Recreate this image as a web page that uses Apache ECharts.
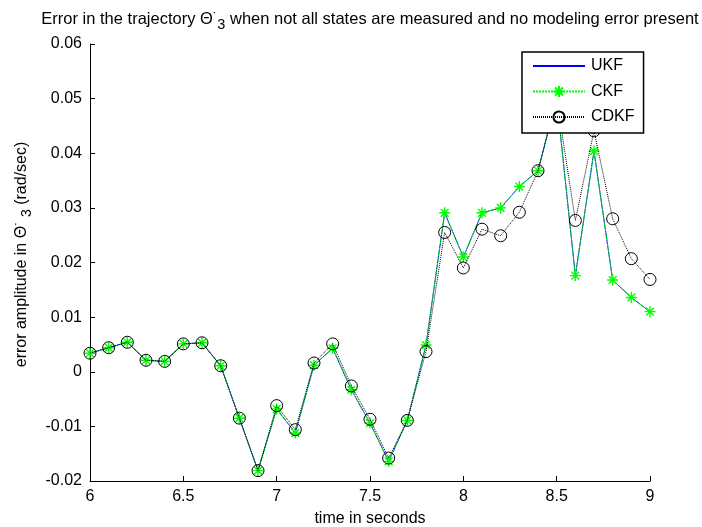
<!DOCTYPE html>
<html>
<head>
<meta charset="utf-8">
<script src="https://cdn.jsdelivr.net/npm/echarts@6/dist/echarts.min.js"></script>
<style>
  html, body { margin: 0; padding: 0; background: #fff; }
  #chart { width: 702px; height: 527px; }
</style>
</head>
<body>
<div id="chart"></div>
<script>
// time samples (s)
const time = [6.0, 6.1, 6.2, 6.3, 6.4, 6.5, 6.6, 6.7, 6.8, 6.9,
              7.0, 7.1, 7.2, 7.3, 7.4, 7.5, 7.6, 7.7, 7.8, 7.9,
              8.0, 8.1, 8.2, 8.3, 8.4, 8.5, 8.6, 8.7, 8.8, 8.9, 9.0];

// error in the Theta-dot_3 trajectory (rad/sec)
const ukf  = [0.0034, 0.0044, 0.0054, 0.0021, 0.0019, 0.0051, 0.0053, 0.0011, -0.0085, -0.0181,
              -0.0068, -0.0112, 0.0012, 0.0043, -0.0033, -0.0094, -0.0164, -0.0089, 0.0049, 0.0291,
              0.0210, 0.0291, 0.0300, 0.0339, 0.0368, 0.0500, 0.0176, 0.0404, 0.0168, 0.0136, 0.0110];
const ckf  = [0.0034, 0.0044, 0.0054, 0.0021, 0.0019, 0.0051, 0.0053, 0.0011, -0.0085, -0.0181,
              -0.0068, -0.0112, 0.0012, 0.0043, -0.0033, -0.0094, -0.0164, -0.0089, 0.0049, 0.0291,
              0.0210, 0.0291, 0.0300, 0.0339, 0.0368, 0.0500, 0.0176, 0.0404, 0.0168, 0.0136, 0.0110];
const cdkf = [0.0034, 0.0044, 0.0054, 0.0021, 0.0019, 0.0051, 0.0053, 0.0011, -0.0085, -0.0181,
              -0.0062, -0.0106, 0.0016, 0.0051, -0.0026, -0.0087, -0.0158, -0.0089, 0.0037, 0.0255,
              0.0190, 0.0261, 0.0249, 0.0292, 0.0368, 0.0500, 0.0277, 0.0441, 0.0280, 0.0207, 0.0169];

// axis ranges and ticks
const xTicks = [6, 6.5, 7, 7.5, 8, 8.5, 9];
const yTicks = [-0.02, -0.01, 0, 0.01, 0.02, 0.03, 0.04, 0.05, 0.06];

const FONT = '"Liberation Sans", Arial, Helvetica, sans-serif';
const pairs = arr => time.map((t, i) => [t, arr[i]]);

// MATLAB-style '*' marker
const asterisk = 'path://M5,0L5,10M0,5L10,5M1.5,1.5L8.5,8.5M8.5,1.5L1.5,8.5';

// rich-text pieces for the dotted Theta with subscript 3
function thetaRich(size, lh) {
  return {
    th:  { fontFamily: FONT, fontSize: size, color: '#000', lineHeight: lh },
    dot: { fontFamily: FONT, fontSize: size - 3, color: '#000', lineHeight: lh, padding: [0, 0, 4, 0] },
    sub: { fontFamily: FONT, fontSize: size - 2, color: '#000', verticalAlign: 'bottom', lineHeight: size - 3 }
  };
}

const chart = echarts.init(document.getElementById('chart'), null, { renderer: 'canvas' });

chart.setOption({
  backgroundColor: '#ffffff',
  animation: false,
  textStyle: { fontFamily: FONT },
  title: {
    text: 'Error in the trajectory {th|Θ}{dot|˙}{sub|3} when not all states are measured and no modeling error present',
    left: 365,
    textAlign: 'center',
    top: 1,
    textStyle: {
      fontFamily: FONT,
      fontSize: 16.5,
      fontWeight: 'normal',
      color: '#000',
      lineHeight: 26,
      rich: thetaRich(16.5, 26)
    }
  },
  legend: {
    orient: 'vertical',
    left: 522,
    top: 52,
    padding: [6, 9, 8, 10],
    itemWidth: 52,
    itemHeight: 14,
    itemGap: 9.5,
    backgroundColor: '#ffffff',
    borderColor: '#000',
    borderWidth: 1.5,
    z: 10,
    textStyle: { fontFamily: FONT, fontSize: 16, color: '#000', padding: [0, 0, 0, 1] },
    data: [
      { name: 'UKF', itemStyle: { color: 'rgba(0,0,0,0)', borderWidth: 0, opacity: 0 } },
      { name: 'CKF' },
      { name: 'CDKF' }
    ]
  },
  grid: { left: 90, right: 52, top: 44, bottom: 46, containLabel: false, outerBoundsMode: 'none' },
  xAxis: {
    type: 'value',
    min: xTicks[0],
    max: xTicks[xTicks.length - 1],
    interval: 0.5,
    name: 'time in seconds',
    nameLocation: 'middle',
    nameGap: 30,
    nameTextStyle: { fontFamily: FONT, fontSize: 16, color: '#000' },
    axisLine: { show: true, onZero: false, lineStyle: { color: '#000', width: 1 } },
    axisTick: { show: true, inside: true, length: 5, lineStyle: { color: '#000' } },
    axisLabel: {
      fontFamily: FONT, fontSize: 16, color: '#000', margin: 8,
      formatter: v => String(xTicks.find(t => Math.abs(t - v) < 1e-9) ?? v)
    },
    splitLine: { show: false }
  },
  yAxis: {
    type: 'value',
    min: yTicks[0],
    max: yTicks[yTicks.length - 1],
    interval: 0.01,
    name: 'error amplitude in {th|Θ}{dot|˙} {sub|3} (rad/sec)',
    nameLocation: 'middle',
    nameGap: 56,
    nameTextStyle: {
      fontFamily: FONT, fontSize: 16, color: '#000',
      padding: [0, 0, 0, 16],
      lineHeight: 24,
      rich: thetaRich(16, 24)
    },
    axisLine: { show: true, onZero: false, lineStyle: { color: '#000', width: 1 } },
    axisTick: { show: true, inside: true, length: 5, lineStyle: { color: '#000' } },
    axisLabel: {
      fontFamily: FONT, fontSize: 16, color: '#000', margin: 8,
      formatter: v => {
        const t = yTicks.find(k => Math.abs(k - v) < 1e-9);
        return t === undefined ? '' : String(t);
      }
    },
    splitLine: { show: false }
  },
  series: [
    {
      name: 'UKF',
      type: 'line',
      data: pairs(ukf),
      symbol: 'none',
      lineStyle: { color: '#0000ff', width: 1 },
      itemStyle: { color: '#0000ff' },
      z: 2
    },
    {
      name: 'CKF',
      type: 'line',
      data: pairs(ckf),
      symbol: asterisk,
      symbolSize: 11,
      lineStyle: { color: '#00ff00', width: 1, type: [2, 1] },
      itemStyle: { color: 'rgba(0,0,0,0)', borderColor: '#00ff00', borderWidth: 1.4 },
      z: 3
    },
    {
      name: 'CDKF',
      type: 'line',
      data: pairs(cdkf),
      symbol: 'circle',
      symbolSize: 12,
      lineStyle: { color: '#000000', width: 1, type: [1, 1] },
      itemStyle: { color: 'rgba(0,0,0,0)', borderColor: '#000000', borderWidth: 1 },
      z: 4
    }
  ]
});
</script>
</body>
</html>
